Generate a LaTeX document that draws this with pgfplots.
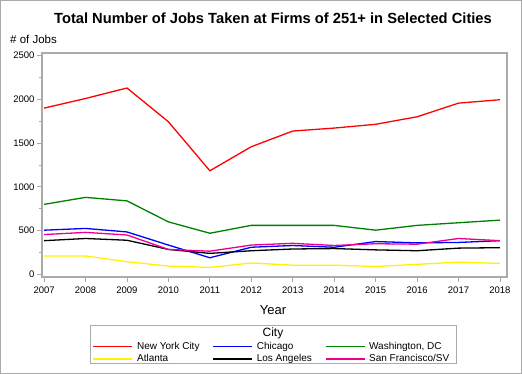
\documentclass[border=0pt]{standalone}
\usepackage{fontspec}
\setmainfont{Liberation Sans}
\usepackage{pgfplots}
\pgfplotsset{compat=1.18}
\definecolor{frame}{RGB}{170,170,170}
\definecolor{sasgreen}{RGB}{0,128,0}
\begin{document}
\begin{tikzpicture}
\useasboundingbox (-42pt,-97pt) rectangle (480pt,277pt);
\draw[frame, line width=1pt] (-41.5pt,-96.5pt) rectangle (479.5pt,276.5pt);
\begin{axis}[
  scale only axis, width=465pt, height=224pt,
  xmin=2006.95, xmax=2018.17, ymin=-30, ymax=2530,
  xtick={2007,2008,...,2018},
  ytick={0,500,...,2500},
  minor ytick={250,750,...,2250},
  /pgf/number format/1000 sep={},
  /pgf/number format/assume math mode=true,
  scaled y ticks=false,
  tick align=outside,
  xtick pos=left, ytick pos=left,
  major tick length=5pt, minor tick length=3pt,
  every tick/.style={frame, line width=0.8pt},
  axis line style={frame, line width=1.2pt},
  tick label style={font=\fontsize{9.5}{11}\selectfont, black},
  xticklabel style={yshift=-1pt},
  yticklabel style={xshift=1pt},
  legend columns=3,
  legend cell align=left,
  legend style={at={(axis description cs:0.4968,-0.338)}, anchor=center, draw=none, fill=none,
    font=\fontsize{10}{12}\selectfont, inner sep=0pt, row sep=2pt,
    /tikz/every even column/.append style={column sep=9pt},
    nodes={inner xsep=4pt, inner ysep=1pt}},
  legend image code/.code={\draw[#1, line width=1.3pt] (0pt,0pt) -- (39pt,0pt);},
  every axis plot/.append style={line width=1.3pt},
]
\addplot[red] coordinates {(2007,1900) (2008,2010) (2009,2130) (2010,1744) (2011,1184) (2012,1459) (2013,1638) (2014,1672) (2015,1715) (2016,1801) (2017,1957) (2018,1996)};
\addlegendentry{New York City}
\addplot[blue] coordinates {(2007,505) (2008,525) (2009,485) (2010,335) (2011,190) (2012,310) (2013,330) (2014,310) (2015,375) (2016,360) (2017,365) (2018,385)};
\addlegendentry{Chicago}
\addplot[sasgreen] coordinates {(2007,800) (2008,880) (2009,840) (2010,600) (2011,470) (2012,560) (2013,560) (2014,560) (2015,505) (2016,560) (2017,590) (2018,620)};
\addlegendentry{Washington, DC}
\addplot[yellow] coordinates {(2007,210) (2008,210) (2009,145) (2010,95) (2011,80) (2012,130) (2013,105) (2014,105) (2015,90) (2016,115) (2017,140) (2018,125)};
\addlegendentry{Atlanta}
\addplot[black] coordinates {(2007,385) (2008,410) (2009,390) (2010,285) (2011,240) (2012,270) (2013,290) (2014,295) (2015,280) (2016,270) (2017,300) (2018,305)};
\addlegendentry{Los Angeles}
\addplot[magenta] coordinates {(2007,455) (2008,480) (2009,450) (2010,285) (2011,265) (2012,335) (2013,355) (2014,330) (2015,350) (2016,345) (2017,410) (2018,385)};
\addlegendentry{San Francisco/SV}
\end{axis}
\node[font=\bfseries\fontsize{14.7}{16}\selectfont] at (231pt,259pt) {Total Number of Jobs Taken at Firms of 251+ in Selected Cities};
\node[anchor=west, font=\fontsize{11.5}{13}\selectfont, inner sep=0pt] at (-32pt,238pt) {\# of Jobs};
\node[font=\fontsize{13}{15}\selectfont] at (231pt,-33pt) {Year};
\draw[frame, line width=1pt] (48pt,-49pt) rectangle (414pt,-87pt);
\node[font=\fontsize{12}{14}\selectfont] at (231pt,-56.5pt) {City};
\end{tikzpicture}
\end{document}
